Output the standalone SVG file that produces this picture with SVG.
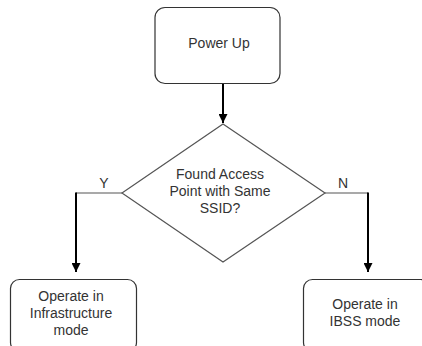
<svg xmlns="http://www.w3.org/2000/svg" width="422" height="346" viewBox="0 0 422 346">
  <defs>
    <marker id="arrow" viewBox="0 0 10 10" refX="10" refY="5" markerWidth="4.5" markerHeight="4.5" orient="auto" markerUnits="strokeWidth">
      <path d="M0,0 L10,5 L0,10 z" fill="#000"/>
    </marker>
  </defs>
  <style>
    .box { fill: #fff; stroke: #333; stroke-width: 1.2; }
    .dia { fill: #fff; stroke: #555; stroke-width: 1.2; }
    .lbl { font-family: "Liberation Sans", Arial, sans-serif; font-size: 14px; fill: #333; text-anchor: middle; }
    .thin { fill: none; stroke: #555; stroke-width: 1.2; }
    .flow { fill: none; stroke: #000; stroke-width: 2; marker-end: url(#arrow); }
  </style>
  <rect width="422" height="346" fill="#fff"/>

  <g id="connectors">
    <path class="flow" d="M223,83 V123"/>
    <path class="thin" d="M122,193 H76"/>
    <path class="flow" d="M76,192.4 V272"/>
    <path class="thin" d="M325,193 H368"/>
    <path class="flow" d="M368,192.4 V272"/>
    <text class="lbl" x="104" y="188">Y</text>
    <text class="lbl" x="343" y="188">N</text>
  </g>

  <g id="power-up">
    <rect class="box" x="155" y="7.5" width="125" height="76" rx="10"/>
    <text class="lbl" x="219" y="48">Power Up</text>
  </g>

  <g id="found-ap">
    <polygon class="dia" points="223,124 325,193 223,262 122,193"/>
    <text class="lbl" x="220" y="179">Found Access</text>
    <text class="lbl" x="220" y="196">Point with Same</text>
    <text class="lbl" x="220" y="213">SSID?</text>
  </g>

  <g id="infrastructure">
    <rect class="box" x="10.5" y="279.5" width="126" height="72" rx="9"/>
    <text class="lbl" x="71" y="301">Operate in</text>
    <text class="lbl" x="71" y="318">Infrastructure</text>
    <text class="lbl" x="71" y="335">mode</text>
  </g>

  <g id="ibss">
    <rect class="box" x="303.5" y="279.5" width="126" height="72" rx="9"/>
    <text class="lbl" x="365" y="309">Operate in</text>
    <text class="lbl" x="365" y="326">IBSS mode</text>
  </g>
</svg>
